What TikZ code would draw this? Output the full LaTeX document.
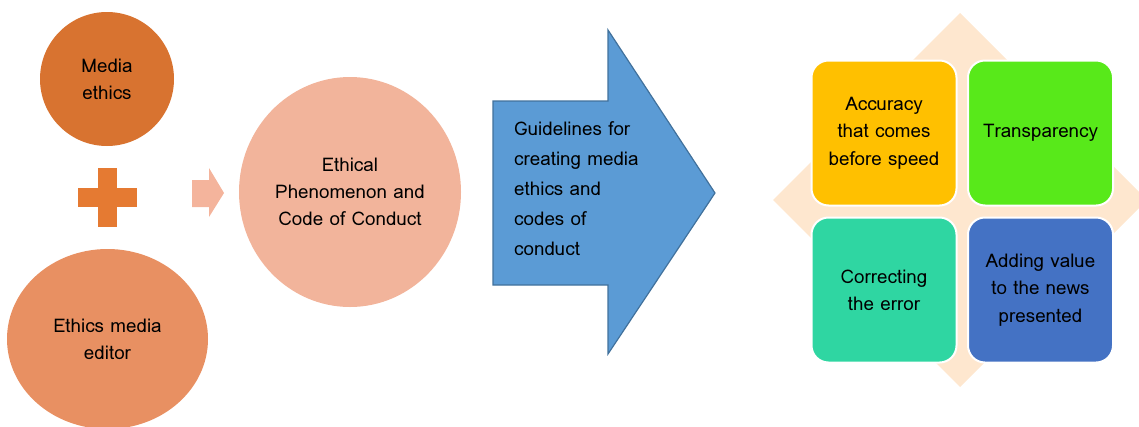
\documentclass[tikz,border=0pt]{standalone}
\usepackage{fontspec}
\usetikzlibrary{shapes.geometric}
\setmainfont{Loma}[Script=Thai]
\definecolor{cMedia}{HTML}{D87330}
\definecolor{cPlus}{HTML}{E57A32}
\definecolor{cEditor}{HTML}{E89062}
\definecolor{cSmallArrow}{HTML}{F4B49C}
\definecolor{cEthical}{HTML}{F2B49B}
\definecolor{cBlueFill}{HTML}{5B9BD5}
\definecolor{cBlueLine}{HTML}{41719C}
\definecolor{cDiamond}{HTML}{FEE7CF}
\definecolor{cAmber}{HTML}{FFC000}
\definecolor{cGreen}{HTML}{58E91A}
\definecolor{cTeal}{HTML}{2FD6A2}
\definecolor{cBlue}{HTML}{4472C4}
\tikzset{
  txt/.style={font=\fontsize{18.8}{27.3}\selectfont, text=black, align=center},
  quad/.style={draw=white, line width=2pt, rounded corners=17pt, minimum width=145pt, minimum height=145pt, inner sep=0pt, txt, text width=140pt},
}
\begin{document}
\begin{tikzpicture}[x=1pt,y=-1pt]
\useasboundingbox (0,0) rectangle (1139,426);
% left circles
\node[circle, fill=cMedia, minimum size=134pt, inner sep=0pt, txt] (media) at (107,79) {Media\\ethics};
\fill[cPlus] (98,168) rectangle (117,227);
\fill[cPlus] (78,188) rectangle (137,207);
\node[coordinate] (plus) at (107.5,197.5) {};
\node[ellipse, fill=cEditor, minimum width=201pt, minimum height=180pt, inner sep=0pt, txt] (editor) at (107.5,339) {Ethics media\\editor};
% small arrow
\fill[cSmallArrow] (192,180) -- (209,180) -- (209,168) -- (224,193) -- (209,217) -- (209,207) -- (192,207) -- cycle;
\node[coordinate] (sarrow) at (208,193) {};
% ethical circle
\node[ellipse, fill=cEthical, minimum width=222pt, minimum height=230pt, inner sep=0pt, txt] (ethical) at (350,192) {Ethical\\Phenomenon and\\Code of Conduct};
% blue arrow
\filldraw[fill=cBlueFill, draw=cBlueLine, line width=1.2pt] (493,101) -- (608,101) -- (608,30) -- (715,193) -- (608,354) -- (608,285) -- (493,285) -- cycle;
\node[txt, font=\fontsize{18.8}{30}\selectfont, align=left, anchor=north west, inner sep=0pt] (guide) at (514,121) {Guidelines for\\creating media\\ethics and\\codes of\\conduct};
% diamond background
\fill[cDiamond] (960,13) -- (1147,200) -- (960,387) -- (773,200) -- cycle;
\node[coordinate] (diamond) at (960,200) {};
% quadrants
\node[quad, fill=cAmber] (q1) at (884,133) {Accuracy\\that comes\\before speed};
\node[quad, fill=cGreen] (q2) at (1040.5,133) {Transparency};
\node[quad, fill=cTeal] (q3) at (884,290) {Correcting\\the error};
\node[quad, fill=cBlue] (q4) at (1040.5,290) {Adding value\\to the news\\presented};
\end{tikzpicture}
\end{document}
